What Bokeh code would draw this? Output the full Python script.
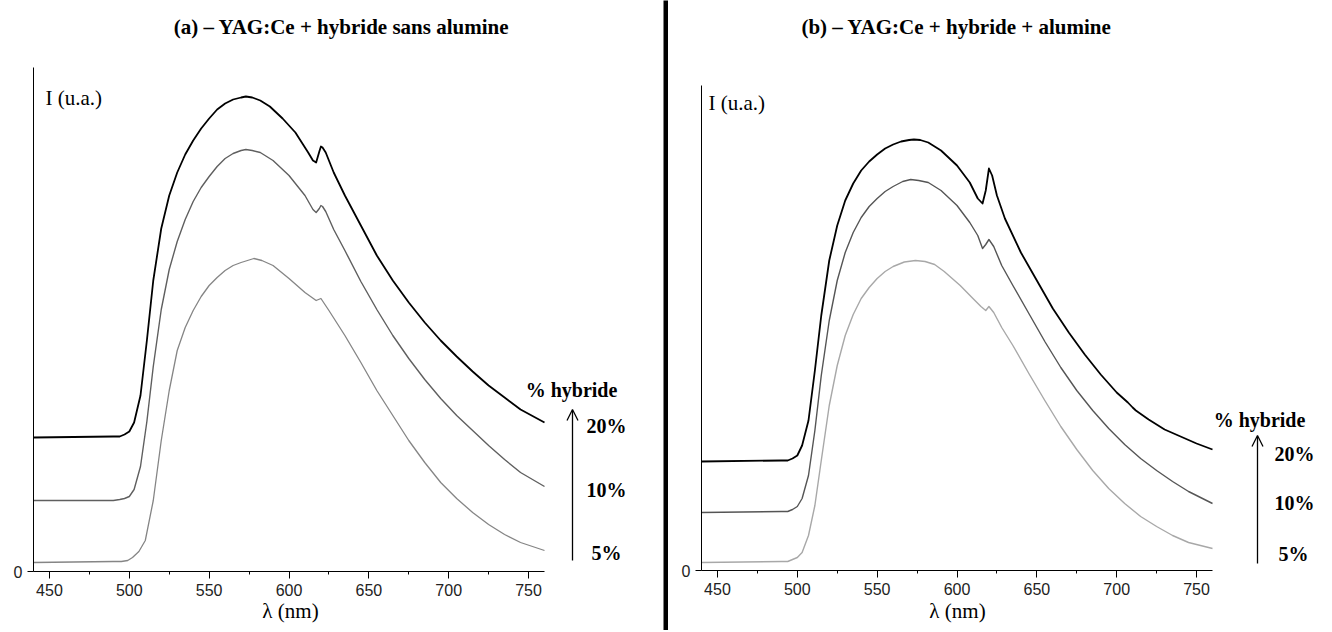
from bokeh.plotting import figure
from bokeh.layouts import row
from bokeh.models import (Range1d, SingleIntervalTicker, FixedTicker, Label, Arrow, OpenHead,
                          LinearAxis)
from bokeh.embed import file_html
from bokeh.resources import INLINE

# ---------------- data ----------------
# Panel (a): YAG:Ce + hybride sans alumine
wl_a20 = [440, 490, 494, 497, 500, 503, 507, 511, 515, 520, 525, 530, 535, 540, 545, 550, 555, 560, 565, 570, 573, 577, 582, 588, 596, 604, 612, 615, 617, 619, 620, 621, 623, 628, 635, 645, 655, 665, 675, 685, 695, 705, 715, 725, 735, 745, 760]
int_a20 = [134, 135, 135, 137, 140, 149, 176, 231, 291, 343, 376, 399, 417, 431, 443, 453, 462, 468, 472, 474, 475, 474, 471, 465, 453, 439, 419, 411, 409, 420, 425, 424, 419, 399, 376, 346, 316, 291, 269, 249, 231, 215, 200, 186, 174, 162, 149]

wl_a10 = [440, 490, 494, 497, 500, 503, 507, 511, 515, 520, 525, 530, 535, 540, 545, 550, 555, 560, 565, 570, 573, 577, 582, 590, 600, 610, 615, 617, 619, 620, 621, 623, 628, 635, 645, 655, 665, 675, 685, 695, 705, 715, 725, 735, 745, 760]
int_a10 = [71, 71, 72, 73, 75, 82, 105, 150, 205, 262, 302, 330, 352, 370, 384, 395, 405, 413, 418, 421, 422, 421, 419, 411, 396, 376, 362, 359, 363, 366, 365, 360, 342, 321, 290, 262, 236, 213, 192, 173, 156, 141, 126, 112, 99, 85]

wl_a05 = [440, 490, 495, 499, 502, 506, 510, 515, 520, 525, 530, 535, 540, 545, 550, 555, 560, 565, 570, 574, 578, 583, 590, 600, 610, 617, 620, 625, 635, 645, 655, 665, 675, 685, 695, 705, 715, 725, 735, 745, 760]
int_a05 = [9, 10, 10, 11, 14, 20, 31, 71, 131, 181, 221, 244, 261, 275, 286, 294, 301, 306, 309, 311, 313, 311, 306, 293, 279, 271, 273, 261, 236, 209, 181, 156, 131, 109, 89, 73, 59, 47, 37, 29, 21]

# Panel (b): YAG:Ce + hybride + alumine
wl_b20 = [440, 490, 494, 497, 500, 503, 507, 511, 515, 520, 525, 530, 535, 540, 545, 550, 555, 560, 565, 570, 573, 577, 582, 590, 600, 608, 613, 616, 618, 620, 622, 625, 630, 640, 650, 660, 670, 680, 690, 700, 707, 710, 712, 720, 730, 740, 750, 760]
int_b20 = [109, 110, 110, 112, 115, 125, 150, 200, 255, 310, 345, 370, 387, 400, 409, 416, 422, 426, 429, 430.5, 431, 430.5, 428, 420, 405, 388, 372, 367, 380, 402, 395, 375, 352, 318, 290, 262, 238, 216, 196, 178, 168, 163, 160, 151, 141, 134, 127, 121]

wl_b10 = [440, 490, 494, 497, 500, 503, 507, 511, 515, 520, 525, 530, 535, 540, 545, 550, 555, 560, 566, 571, 576, 582, 590, 600, 608, 613, 616, 618, 620, 623, 628, 635, 645, 655, 665, 675, 685, 695, 705, 715, 725, 735, 745, 760]
int_b10 = [58, 59, 59, 61, 64, 72, 95, 140, 195, 250, 290, 318, 338, 353, 364, 372, 379, 384, 389, 391, 390, 388, 380, 365, 348, 335, 322, 326, 331, 324, 305, 285, 257, 229, 203, 180, 160, 142, 126, 112, 100, 89, 79, 67]

wl_b05 = [440, 490, 494, 497, 500, 503, 507, 511, 515, 520, 525, 530, 535, 540, 545, 550, 555, 560, 567, 574, 580, 586, 592, 602, 610, 615, 618, 620, 623, 628, 635, 645, 655, 665, 675, 685, 695, 705, 715, 725, 735, 745, 760]
int_b05 = [8, 9, 9, 11, 13, 18, 35, 65, 110, 165, 205, 235, 256, 272, 283, 292, 299, 304, 308.5, 310, 309, 306, 299, 285, 272, 264, 260, 264, 258, 243, 225, 197, 170, 144, 121, 100, 82, 67, 54, 44, 35, 28, 22]

x_ticks_interval = 50
series_labels = ["20%", "10%", "5%"]
titles = ["(a) \u2013 YAG:Ce + hybride sans alumine", "(b) \u2013 YAG:Ce + hybride + alumine"]

SERIF = "Liberation Serif"
SANS = "Liberation Sans"
NM_PER_PX = 320 / 511.0   # 440-760 nm spans 511 px
FIG_H = 630


def make_panel(page_x, width, axis_x, axis_bottom, axis_top, series, title, layout):
    # frame covers the whole figure; axes are pinned at data 0 / 440 nm
    left_px = axis_x - page_x
    x_start = 440 - left_px * NM_PER_PX
    x_end = 440 + (width - left_px) * NM_PER_PX
    y_start = -(FIG_H - axis_bottom)
    y_end = axis_bottom
    p = figure(width=width, height=FIG_H, x_range=Range1d(x_start, x_end), y_range=Range1d(y_start, y_end),
               output_backend="svg", toolbar_location=None, min_border=0,
               x_axis_location=None, y_axis_location=None)
    p.outline_line_color = None
    p.background_fill_color = "white"
    p.border_fill_color = "white"
    p.xgrid.visible = False
    p.ygrid.visible = False

    xa = LinearAxis(fixed_location=0, bounds=(440, 760),
                    ticker=SingleIntervalTicker(interval=x_ticks_interval, num_minor_ticks=2))
    xa.major_tick_out = 7
    xa.major_tick_in = 0
    xa.minor_tick_out = 3
    xa.minor_tick_in = 0
    xa.axis_line_color = "black"
    xa.major_tick_line_color = "black"
    xa.minor_tick_line_color = "black"
    xa.major_label_text_font = SANS
    xa.major_label_text_font_size = "16px"
    xa.major_label_text_color = "#222222"
    xa.major_label_standoff = 5
    p.add_layout(xa, "below")

    ya = LinearAxis(fixed_location=440, bounds=(0, axis_bottom - axis_top), ticker=FixedTicker(ticks=[0]))
    ya.major_tick_out = 6
    ya.major_tick_in = 0
    ya.minor_tick_out = 0
    ya.minor_tick_in = 0
    ya.axis_line_color = "black"
    ya.major_tick_line_color = "black"
    ya.major_label_text_font = SANS
    ya.major_label_text_font_size = "16px"
    ya.major_label_text_color = "#222222"
    ya.major_label_standoff = 5
    p.add_layout(ya, "left")

    for (wl, inten, color, lw) in series:
        p.line(wl, inten, line_color=color, line_width=lw, line_join="round")

    def dx(px):
        return 440 + (px - axis_x) * NM_PER_PX

    def dy(py):
        return axis_bottom - py

    def lab(pos, text, size, bold=False, align="center"):
        p.add_layout(Label(x=dx(pos[0]), y=dy(pos[1]), text=text,
                           text_font=SERIF, text_font_size=size,
                           text_font_style="bold" if bold else "normal",
                           text_align=align, text_baseline="middle", text_color="black"))

    lab(layout["title"], title, "21px", bold=True)
    lab(layout["ylab"], "I (u.a.)", "21px", align="left")
    lab(layout["xlab"], "\u03bb (nm)", "21px")
    lab(layout["head"], "% hybride", "20px", bold=True)
    for text, pos in zip(series_labels, layout["labels"]):
        lab(pos, text, "20px", bold=True)
    ax, ay0, ay1 = layout["arrow"]
    p.add_layout(Arrow(end=OpenHead(size=11, line_width=1.3, line_color="black"),
                       x_start=dx(ax), y_start=dy(ay0), x_end=dx(ax), y_end=dy(ay1),
                       line_width=1.3, line_color="black"))
    return p


layout_a = dict(title=(341, 26), ylab=(45, 97), xlab=(290, 610), head=(571, 389),
                labels=[(606, 425), (606, 489), (606, 552)], arrow=(572, 560, 409))
layout_b = dict(title=(956, 26), ylab=(708, 102), xlab=(957, 610), head=(1259, 419),
                labels=[(1294, 453), (1294, 502), (1293, 553)], arrow=(1257, 563, 435))

pa = make_panel(0, 663, 33, 571, 67,
                [(wl_a05, int_a05, "#858585", 1.3), (wl_a10, int_a10, "#5f5f5f", 1.4), (wl_a20, int_a20, "black", 1.8)],
                titles[0], layout_a)
pb = make_panel(668, 662, 701, 570, 85,
                [(wl_b05, int_b05, "#a8a8a8", 1.4), (wl_b10, int_b10, "#555555", 1.4), (wl_b20, int_b20, "black", 1.8)],
                titles[1], layout_b)

div = figure(width=5, height=FIG_H, min_border=0, toolbar_location=None, output_backend="svg",
             x_axis_location=None, y_axis_location=None,
             background_fill_color="black", border_fill_color="black", outline_line_color=None)
div.xgrid.visible = False
div.ygrid.visible = False

layout = row(pa, div, pb, spacing=0)
open("out.html", "w").write(file_html(layout, INLINE))
